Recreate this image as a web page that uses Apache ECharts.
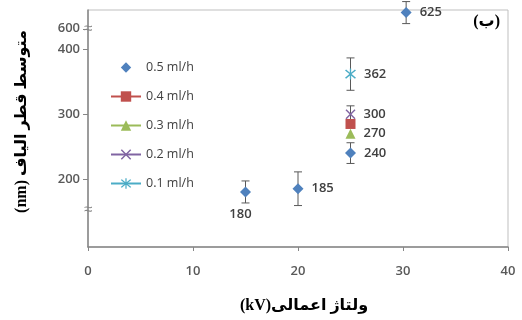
<!DOCTYPE html>
<html>
<head>
<meta charset="utf-8">
<script src="https://cdn.jsdelivr.net/npm/echarts@6.0.0/dist/echarts.min.js"></script>
<style>
  html, body { margin: 0; padding: 0; background: #fff; }
  #main { width: 522px; height: 320px; }
</style>
</head>
<body>
<div id="main"></div>
<script>
// flow rates (legend)
const seriesNames = ['0.5 ml/h', '0.4 ml/h', '0.3 ml/h', '0.2 ml/h', '0.1 ml/h']
// [voltage kV, mean fibre diameter nm, error nm]
const data05 = [[15, 180, 17], [20, 185, 26], [25, 240, 16], [30.3, 625, 17]]
const data04 = [[25, 285, 0]]
const data03 = [[25, 270, 0]]
const data02 = [[25, 300, 13]]
const data01 = [[25, 362, 25]]
const xTicks = [0, 10, 20, 30, 40]
const yTicks = [200, 300, 400, 600]
// collapsed part of the y axis, and where the second break sign sits
const yBreak = [430, 600]
const yLowMark = 152

const colors = ['#4F81BD', '#C0504D', '#9BBB59', '#8064A2', '#4BACC6']
const xPath = 'path://M0,1L1,0L5,4L9,0L10,1L6,5L10,9L9,10L5,6L1,10L0,9L4,5Z'
const starPath = 'path://M0,1L1,0L5,4L9,0L10,1L6,5L10,9L9,10L5,6L1,10L0,9L4,5Z M4.4,-1L5.6,-1L5.6,11L4.4,11Z'
const symbols = ['diamond', 'rect', 'triangle', xPath, starPath]
const sizes = [11, 10, 10, 10, 11]
const allData = [data05, data04, data03, data02, data01]
const showLabel = [true, false, true, true, true]

const labelFont = {
  color: '#404040',
  fontSize: 13,
  fontWeight: 600,
  fontFamily: "'Open Sans', sans-serif"
}
const titleFont = {
  color: '#000',
  fontSize: 16,
  fontWeight: 'bold',
  fontFamily: "'Liberation Serif', 'DejaVu Sans', serif"
}

function errorBars(data, idx) {
  return {
    type: 'custom',
    name: 'err' + idx,
    z: 1,
    silent: true,
    data: data.filter(d => d[2] > 0).map(d => [d[0], d[1] - d[2], d[1] + d[2]]),
    encode: { x: 0, y: [1, 2] },
    renderItem: function (params, api) {
      const lo = api.coord([api.value(0), api.value(1)])
      const hi = api.coord([api.value(0), api.value(2)])
      const w = 4
      const style = { stroke: '#595959', lineWidth: 1 }
      return {
        type: 'group',
        children: [
          { type: 'line', shape: { x1: lo[0], y1: lo[1], x2: hi[0], y2: hi[1] }, style: style },
          { type: 'line', shape: { x1: lo[0] - w, y1: lo[1], x2: lo[0] + w, y2: lo[1] }, style: style },
          { type: 'line', shape: { x1: hi[0] - w, y1: hi[1], x2: hi[0] + w, y2: hi[1] }, style: style }
        ]
      }
    }
  }
}

const series = []
allData.forEach((data, i) => {
  series.push(errorBars(data, i))
  series.push({
    name: seriesNames[i],
    type: 'line',
    z: 3,
    symbol: symbols[i],
    symbolSize: sizes[i],
    showAllSymbol: true,
    itemStyle: { color: colors[i] },
    // 0.5 ml/h is markers only, no line
    lineStyle: { color: colors[i], width: 2, opacity: i === 0 ? 0 : 1 },
    label: Object.assign({
      show: showLabel[i],
      position: 'right',
      distance: 8,
      formatter: p => p.value[1]
    }, labelFont),
    data: data.map((d, k) => {
      const item = { value: [d[0], d[1]] }
      // the 180 value label sits under its point
      if (i === 0 && k === 0) {
        item.label = { position: 'bottom', distance: 10, offset: [-5, 0] }
      }
      return item
    })
  })
})

const chart = echarts.init(document.getElementById('main'))
const option = {
  animation: false,
  grid: {
    left: 88, right: 14, top: 10, bottom: 73,
    show: true, borderColor: '#BFBFBF', borderWidth: 1
  },
  legend: {
    data: seriesNames,
    orient: 'vertical',
    left: 105,
    top: 56,
    itemWidth: 30,
    itemHeight: 13,
    itemGap: 16,
    textStyle: { color: '#404040', fontSize: 12.5, fontFamily: "'Open Sans', sans-serif" }
  },
  xAxis: {
    type: 'value',
    min: xTicks[0],
    max: xTicks[xTicks.length - 1],
    interval: 10,
    name: '(kV)ولتاژ اعمالی',
    nameLocation: 'middle',
    nameGap: 51,
    nameTextStyle: Object.assign({ padding: [0, 0, 0, 12] }, titleFont),
    axisLine: { lineStyle: { color: '#868686', width: 1.5 } },
    axisTick: { show: true, length: 4, lineStyle: { color: '#868686' } },
    splitLine: { show: false },
    axisLabel: {
      margin: 18,
      color: '#595959',
      fontSize: 13,
      fontWeight: 600,
      fontFamily: "'Open Sans', sans-serif"
    }
  },
  yAxis: {
    type: 'value',
    min: 95,
    max: 629,
    breaks: [{ start: yBreak[0], end: yBreak[1], gap: 2 }],
    breakArea: { show: false },
    name: '(nm) متوسط قطر الیاف',
    nameLocation: 'middle',
    nameRotate: 90,
    nameGap: 58,
    nameTextStyle: Object.assign({ padding: [0, 0, 0, 14] }, titleFont),
    axisLine: { show: true, lineStyle: { color: '#868686', width: 1.5 } },
    axisTick: { show: true, length: 5, customValues: yTicks, lineStyle: { color: '#868686' } },
    splitLine: { show: false },
    axisLabel: {
      customValues: yTicks,
      margin: 8,
      color: '#595959',
      fontSize: 13,
      fontWeight: 600,
      fontFamily: "'Open Sans', sans-serif"
    }
  },
  series: series
}
chart.setOption(option)

// break signs on the y axis and the panel letter
const axisX = chart.convertToPixel({ xAxisIndex: 0 }, 0)
const yHigh = chart.convertToPixel({ yAxisIndex: 0 }, yBreak[0]) - 1
const yLow = chart.convertToPixel({ yAxisIndex: 0 }, yLowMark)
const breakSign = y => ({
  type: 'text',
  x: axisX,
  y: y,
  z: 10,
  style: { text: '≈', fill: '#868686', fontSize: 15, align: 'center', verticalAlign: 'middle' }
})
chart.setOption({
  graphic: [
    breakSign(yHigh),
    breakSign(yLow),
    {
      type: 'text',
      right: 22,
      top: 14,
      style: Object.assign({ text: '(ب)', fill: '#000' }, titleFont, { fontSize: 16 })
    }
  ]
})
</script>
</body>
</html>
